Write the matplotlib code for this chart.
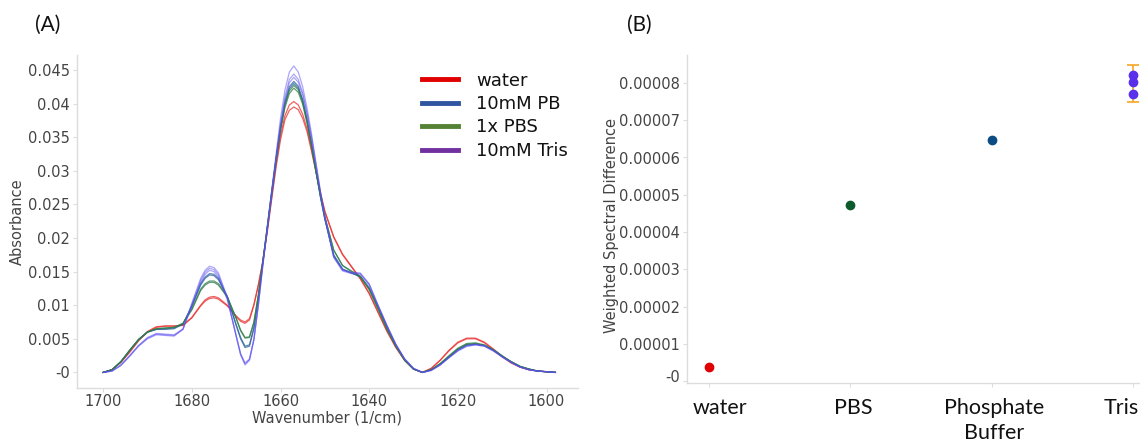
import matplotlib
matplotlib.use("Agg")
import matplotlib.pyplot as plt
import matplotlib.transforms as mtransforms
import numpy as np
from matplotlib.lines import Line2D

WAVENUMBER = [1700, 1698, 1696, 1694, 1692, 1690, 1688, 1686, 1684, 1682,
              1680, 1678, 1677, 1676, 1675, 1674, 1672, 1670, 1669, 1668,
              1667, 1666, 1665, 1664, 1663, 1662, 1661, 1660, 1659, 1658,
              1657, 1656, 1655, 1654, 1653, 1652, 1651, 1650, 1648, 1646,
              1644, 1642, 1640, 1638, 1636, 1634, 1632, 1630, 1628, 1626,
              1624, 1622, 1620, 1618, 1616, 1614, 1612, 1610, 1608, 1606,
              1604, 1602, 1600, 1598]

WATER = [
    [0.0, 0.4, 1.5, 3.1, 4.8, 6.1, 6.8, 6.9, 6.9, 7.0,
     8.2, 10.0, 10.8, 11.2, 11.3, 11.1, 10.0, 8.3, 7.6, 7.3,
     7.8, 10.0, 13.0, 16.5, 21.0, 26.0, 31.0, 35.2, 38.2, 39.8,
     40.3, 39.8, 38.4, 36.2, 33.2, 30.0, 26.8, 24.0, 20.2, 17.6,
     15.8, 14.0, 11.8, 9.0, 6.2, 3.8, 1.8, 0.5, 0.0, 0.6,
     1.8, 3.3, 4.5, 5.1, 5.1, 4.5, 3.5, 2.4, 1.5, 0.8,
     0.4, 0.2, 0.1, 0.0],
    [0.0, 0.4, 1.5, 3.0, 4.7, 6.0, 6.7, 6.9, 6.9, 7.0,
     8.1, 9.9, 10.6, 11.0, 11.1, 10.9, 9.9, 8.4, 7.8, 7.5,
     8.0, 10.1, 13.0, 16.4, 20.8, 25.7, 30.5, 34.6, 37.6, 39.0,
     39.5, 39.1, 37.8, 35.8, 32.9, 29.8, 26.6, 23.9, 20.1, 17.5,
     15.7, 13.9, 11.7, 8.9, 6.1, 3.7, 1.8, 0.5, 0.0, 0.6,
     1.8, 3.2, 4.4, 5.0, 5.0, 4.4, 3.4, 2.3, 1.4, 0.8,
     0.4, 0.2, 0.1, 0.0],
]
PB = [
    [0.0, 0.4, 1.6, 3.3, 4.9, 6.0, 6.4, 6.4, 6.5, 7.2,
     9.9, 13.2, 14.2, 14.7, 14.6, 14.0, 11.3, 7.0, 5.0, 3.7,
     3.9, 6.5, 11.0, 16.3, 21.5, 26.8, 31.8, 36.5, 40.2, 42.5,
     43.3, 42.6, 40.6, 37.6, 34.0, 30.0, 26.2, 22.8, 17.4, 15.3,
     14.8, 14.3, 12.6, 9.8, 6.8, 4.1, 1.9, 0.5, 0.0, 0.4,
     1.2, 2.3, 3.4, 4.1, 4.2, 4.0, 3.3, 2.4, 1.6, 0.9,
     0.5, 0.2, 0.1, 0.0],
    [0.0, 0.4, 1.6, 3.3, 4.9, 6.0, 6.4, 6.5, 6.6, 7.2,
     9.8, 13.0, 14.0, 14.5, 14.4, 13.8, 11.2, 7.1, 5.2, 3.9,
     4.1, 6.7, 11.1, 16.3, 21.4, 26.6, 31.6, 36.2, 39.9, 42.2,
     43.0, 42.3, 40.4, 37.4, 33.9, 29.9, 26.1, 22.8, 17.5, 15.4,
     14.8, 14.2, 12.5, 9.7, 6.7, 4.0, 1.9, 0.5, 0.0, 0.4,
     1.2, 2.3, 3.4, 4.1, 4.2, 4.0, 3.3, 2.4, 1.6, 0.9,
     0.5, 0.2, 0.1, 0.0],
]
PBS = [
    [0.0, 0.4, 1.6, 3.3, 4.9, 6.0, 6.5, 6.6, 6.7, 7.3,
     9.4, 12.4, 13.2, 13.6, 13.6, 13.2, 11.3, 8.0, 6.2, 5.1,
     5.2, 7.4, 11.5, 16.5, 21.6, 26.8, 31.8, 36.3, 39.8, 41.9,
     42.7, 42.1, 40.2, 37.3, 33.8, 30.0, 26.4, 23.2, 18.2, 15.9,
     15.1, 14.3, 12.4, 9.5, 6.5, 3.9, 1.8, 0.5, 0.0, 0.4,
     1.3, 2.5, 3.6, 4.3, 4.4, 4.1, 3.4, 2.5, 1.6, 0.9,
     0.5, 0.2, 0.1, 0.0],
    [0.0, 0.4, 1.6, 3.3, 4.9, 6.0, 6.5, 6.6, 6.7, 7.3,
     9.3, 12.2, 13.0, 13.4, 13.4, 13.0, 11.2, 8.1, 6.3, 5.2,
     5.3, 7.5, 11.5, 16.4, 21.4, 26.5, 31.4, 35.9, 39.4, 41.5,
     42.3, 41.7, 39.9, 37.0, 33.6, 29.9, 26.3, 23.1, 18.2, 15.9,
     15.0, 14.2, 12.3, 9.4, 6.4, 3.9, 1.8, 0.5, 0.0, 0.4,
     1.3, 2.4, 3.5, 4.2, 4.3, 4.0, 3.3, 2.4, 1.6, 0.9,
     0.5, 0.2, 0.1, 0.0],
]
TRIS = [
    [0.0, 0.2, 1.0, 2.4, 3.9, 5.0, 5.6, 5.5, 5.4, 6.4,
     10.3, 14.0, 15.2, 15.8, 15.6, 14.8, 11.2, 5.4, 2.6, 1.1,
     1.8, 4.8, 10.0, 16.0, 21.5, 27.0, 32.5, 37.8, 42.0, 44.7,
     45.6, 44.7, 42.5, 39.3, 35.5, 31.2, 27.0, 23.2, 17.2, 15.3,
     14.9, 14.8, 13.2, 10.0, 7.0, 4.2, 2.0, 0.6, 0.0, 0.3,
     1.1, 2.2, 3.3, 4.0, 4.2, 4.0, 3.3, 2.4, 1.5, 0.8,
     0.4, 0.2, 0.1, 0.0],
    [0.0, 0.2, 1.1, 2.5, 4.0, 5.2, 5.8, 5.7, 5.6, 6.5,
     10.1, 13.7, 14.9, 15.5, 15.3, 14.5, 11.0, 5.5, 2.8, 1.4,
     2.0, 5.0, 10.1, 15.9, 21.3, 26.6, 32.0, 37.0, 41.0, 43.6,
     44.4, 43.6, 41.6, 38.6, 35.0, 30.9, 26.8, 23.1, 17.2, 15.2,
     14.8, 14.7, 13.1, 10.0, 7.0, 4.2, 2.0, 0.6, 0.0, 0.3,
     1.1, 2.2, 3.2, 3.9, 4.1, 3.9, 3.2, 2.3, 1.5, 0.8,
     0.4, 0.2, 0.1, 0.0],
    [0.0, 0.2, 1.1, 2.5, 4.0, 5.1, 5.7, 5.6, 5.5, 6.4,
     9.9, 13.4, 14.6, 15.2, 15.0, 14.2, 10.8, 5.4, 2.7, 1.3,
     1.9, 4.9, 10.0, 15.8, 21.2, 26.4, 31.7, 36.6, 40.5, 43.1,
     43.9, 43.2, 41.3, 38.4, 34.8, 30.8, 26.7, 23.0, 17.1, 15.1,
     14.7, 14.6, 13.0, 9.9, 6.9, 4.1, 2.0, 0.6, 0.0, 0.3,
     1.1, 2.2, 3.2, 3.9, 4.1, 3.9, 3.2, 2.3, 1.5, 0.8,
     0.4, 0.2, 0.1, 0.0],
]

SERIES_NAMES = ["water", "10mM PB", "1x PBS", "10mM Tris"]
LEGEND_COLORS = ["#e00000", "#2f55a0", "#548235", "#7030a0"]
LINE_COLORS = ["#e8302f", "#2c62a0", "#2e7d46", "#5b4ef0"]
LINE_ALPHAS = [0.75, 0.75, 0.75, 0.5]

ABS_TICKS = [0, 0.005, 0.01, 0.015, 0.02, 0.025, 0.03, 0.035, 0.04, 0.045]
ABS_TICK_LABELS = ["-0", "0.005", "0.01", "0.015", "0.02", "0.025",
                   "0.03", "0.035", "0.04", "0.045"]
WN_TICKS = [1700, 1680, 1660, 1640, 1620, 1600]

# ---- panel B: weighted spectral difference per buffer ----
CATEGORIES = ["water", "PBS", "Phosphate\nBuffer", "Tris"]
CAT_SHIFT_PX = [11, 3, 2, -12]   # hand-placed labels in the original
WSD_POINTS = [
    [0.0000038],
    [0.0000473],
    [0.0000647],
    [0.0000821, 0.0000802, 0.0000771],
]
TRIS_ERR = 0.0000050
POINT_COLORS = ["#e00000", "#0d5a2c", "#0b4c85", "#5a30ea"]
ERR_COLOR = "#f6a623"
WSD_TICKS = [0, 0.00001, 0.00002, 0.00003, 0.00004, 0.00005, 0.00006,
             0.00007, 0.00008]
WSD_TICK_LABELS = ["-0", "0.00001", "0.00002", "0.00003", "0.00004",
                   "0.00005", "0.00006", "0.00007", "0.00008"]

TEXT = "#444444"
SPINE = "#dcdcdc"
CAT_FONT = ["Lato", "DejaVu Sans"]

plt.rcParams["font.family"] = ["DejaVu Sans"]

fig = plt.figure(figsize=(11.4, 4.41), dpi=100)
W, H = 1140, 441


def px_axes(left, top, right, bottom):
    return fig.add_axes([left / W, 1 - bottom / H, (right - left) / W, (bottom - top) / H])


def style_axes(ax):
    for side in ("top", "right"):
        ax.spines[side].set_visible(False)
    for side in ("left", "bottom"):
        ax.spines[side].set_color(SPINE)
        ax.spines[side].set_linewidth(1.0)
    ax.tick_params(colors=SPINE, labelcolor=TEXT, length=3, width=0.8,
                   labelsize=10.5, pad=2)


def px_shift(dx, dy):
    return mtransforms.ScaledTranslation(dx / 100.0, dy / 100.0, fig.dpi_scale_trans)


# panel A
axA = px_axes(77, 55, 578, 388)
style_axes(axA)
wn = np.array(WAVENUMBER)
for group, color, alpha in zip([WATER, PB, PBS, TRIS], LINE_COLORS, LINE_ALPHAS):
    for rep in group:
        axA.plot(wn, np.array(rep) / 1000.0, color=color, lw=0.9, alpha=alpha)

axA.set_xlim(1705.9, 1592.9)
axA.set_ylim(-0.00232, 0.04723)
axA.set_xticks(WN_TICKS)
axA.set_xticklabels([str(t) for t in WN_TICKS])
axA.tick_params(axis="x", pad=1.5)
axA.set_yticks(ABS_TICKS)
axA.set_yticklabels(ABS_TICK_LABELS)
axA.set_xlabel("Wavenumber (1/cm)", fontsize=10.5, color=TEXT, labelpad=1)
axA.set_ylabel("Absorbance", fontsize=10.5, color=TEXT)
axA.yaxis.set_label_coords(-0.104, 0.5)

handles = [Line2D([], [], color=c, lw=3.5) for c in LEGEND_COLORS]
axA.legend(handles, SERIES_NAMES, loc="upper left", bbox_to_anchor=(0.689, 0.95),
           frameon=False, fontsize=13, handlelength=2.0, handletextpad=1.0,
           labelspacing=0.3, borderpad=0, borderaxespad=0, labelcolor="#111111")

# panel B
axB = px_axes(687, 55, 1140, 383)
style_axes(axB)
for i, (vals, color) in enumerate(zip(WSD_POINTS, POINT_COLORS)):
    axB.plot([i] * len(vals), vals, "o", color=color, ms=6, mec=color, zorder=3)
tris_mean = float(np.mean(WSD_POINTS[3]))
axB.errorbar([3], [tris_mean], yerr=[TRIS_ERR], fmt="none", ecolor=ERR_COLOR,
             elinewidth=1.2, capsize=4, capthick=1.2, zorder=2)

axB.set_xlim(-0.156, 3.05)
axB.set_ylim(-0.0000005, 0.0000875)
axB.set_xticks(range(len(CATEGORIES)))
axB.set_xticklabels(CATEGORIES, fontsize=15.5, color="#111111",
                    family=CAT_FONT, linespacing=1.3)
axB.tick_params(axis="x", pad=8)
for lab, dx in zip(axB.get_xticklabels(), CAT_SHIFT_PX):
    lab.set_transform(lab.get_transform() + px_shift(dx, 0))
axB.set_yticks(WSD_TICKS)
axB.set_yticklabels(WSD_TICK_LABELS)
zero_lab = axB.get_yticklabels()[0]
zero_lab.set_transform(zero_lab.get_transform() + px_shift(0, 5))
axB.set_ylabel("Weighted Spectral Difference", fontsize=10.5, color=TEXT)
axB.yaxis.set_label_coords(-0.150, 0.479)

fig.text(35 / W, 1 - 25 / H, "(A)", fontsize=15, va="center", ha="left",
         family=CAT_FONT, color="#111111")
fig.text(627 / W, 1 - 25 / H, "(B)", fontsize=15, va="center", ha="left",
         family=CAT_FONT, color="#111111")

fig.savefig("out.png", dpi=100)
